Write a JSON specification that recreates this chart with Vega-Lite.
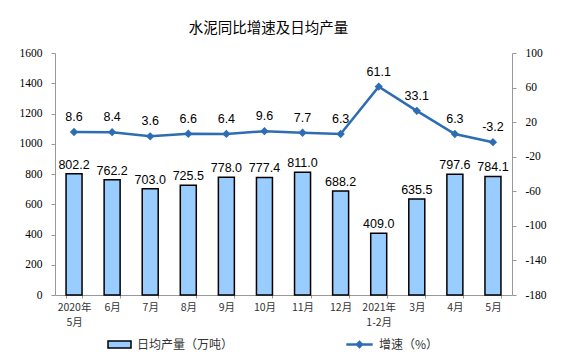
{
  "$schema": "https://vega.github.io/schema/vega-lite/v6.json",
  "width": 457,
  "height": 242,
  "autosize": "none",
  "padding": {"left": 55, "top": 53, "right": 63, "bottom": 61},
  "background": "white",
  "title": {
    "text": "水泥同比增速及日均产量",
    "font": "Noto Sans CJK SC",
    "fontSize": 14.5,
    "fontWeight": "normal",
    "color": "#000",
    "anchor": "middle",
    "offset": 11,
    "dx": -15
  },
  "data": {
    "values": [
      {"m": "2020年\n5月", "prod": 802.2, "g": 8.6},
      {"m": "6月", "prod": 762.2, "g": 8.4},
      {"m": "7月", "prod": 703.0, "g": 3.6},
      {"m": "8月", "prod": 725.5, "g": 6.6},
      {"m": "9月", "prod": 778.0, "g": 6.4},
      {"m": "10月", "prod": 777.4, "g": 9.6},
      {"m": "11月", "prod": 811.0, "g": 7.7},
      {"m": "12月", "prod": 688.2, "g": 6.3},
      {"m": "2021年\n1-2月", "prod": 409.0, "g": 61.1},
      {"m": "3月", "prod": 635.5, "g": 33.1},
      {"m": "4月", "prod": 797.6, "g": 6.3},
      {"m": "5月", "prod": 784.1, "g": -3.2}
    ]
  },
  "encoding": {
    "x": {
      "field": "m",
      "type": "nominal",
      "sort": null,
      "scale": {"paddingInner": 0.58, "paddingOuter": 0.29},
      "axis": {
        "title": null,
        "labelAngle": 0,
        "labelExpr": "split(datum.label, '\\n')",
        "labelFont": "Noto Sans CJK SC",
        "labelFontSize": 10.5,
        "labelColor": "#333",
        "labelPadding": 4,
        "labelLineHeight": 15,
        "domainColor": "#999",
        "tickColor": "#999",
        "tickSize": 3,
        "tickBand": "extent"
      }
    }
  },
  "layer": [
    {
      "encoding": {
        "y": {
          "field": "prod",
          "type": "quantitative",
          "scale": {"domain": [0, 1600], "nice": false},
          "axis": {
            "title": null,
            "values": [0, 200, 400, 600, 800, 1000, 1200, 1400, 1600],
            "format": "d",
            "labelFont": "Liberation Serif",
            "labelFontSize": 11.5,
            "labelColor": "#000",
            "labelPadding": 9,
            "domainColor": "#999",
            "tickColor": "#999",
            "tickSize": 4,
            "grid": false
          }
        }
      },
      "layer": [
        {
          "mark": {"type": "bar", "stroke": "#000", "strokeWidth": 1.5},
          "encoding": {
            "fill": {
              "datum": "日均产量（万吨）",
              "scale": {"range": ["#99CCFF"]},
              "legend": {
                "orient": "none",
                "legendX": 52,
                "legendY": 279,
                "title": null,
                "symbolType": "M-1,-0.3H1V0.3H-1Z",
                "symbolSize": 529,
                "symbolStrokeColor": "#000",
                "symbolStrokeWidth": 1.5,
                "labelOffset": 5,
                "labelFont": "Noto Sans CJK SC",
                "labelFontSize": 12,
                "labelColor": "#333"
              }
            }
          }
        },
        {
          "mark": {"type": "text", "dy": -9, "font": "Liberation Sans", "fontSize": 12.5, "color": "#000"},
          "encoding": {"text": {"field": "prod", "type": "quantitative", "format": ".1f"}}
        }
      ]
    },
    {
      "encoding": {
        "y": {
          "field": "g",
          "type": "quantitative",
          "scale": {"domain": [-180, 100], "nice": false},
          "axis": {
            "title": null,
            "orient": "right",
            "values": [100, 60, 20, -20, -60, -100, -140, -180],
            "format": "d",
            "labelFont": "Liberation Serif",
            "labelFontSize": 11.5,
            "labelColor": "#000",
            "labelPadding": 9,
            "domainColor": "#999",
            "tickColor": "#999",
            "tickSize": 4,
            "grid": false
          }
        }
      },
      "layer": [
        {
          "mark": {
            "type": "line",
            "strokeWidth": 2.5,
            "point": {"shape": "diamond", "size": 30, "filled": true, "color": "#2E6DB4"}
          },
          "encoding": {
            "stroke": {
              "datum": "增速（%）",
              "scale": {"range": ["#2E6DB4"]},
              "legend": {
                "orient": "none",
                "legendX": 292,
                "legendY": 279,
                "title": null,
                "symbolType": "M-1.2,0H1.2M-0.22,0L0,-0.22L0.22,0L0,0.22Z",
                "symbolSize": 484,
                "symbolFillColor": "#2E6DB4",
                "symbolStrokeWidth": 2.5,
                "labelOffset": 7,
                "labelFont": "Noto Sans CJK SC",
                "labelFontSize": 12,
                "labelColor": "#333"
              }
            }
          }
        },
        {
          "mark": {"type": "text", "dy": -15, "font": "Liberation Sans", "fontSize": 12.5, "color": "#000"},
          "encoding": {"text": {"field": "g", "type": "quantitative", "format": ".1f"}}
        }
      ]
    }
  ],
  "resolve": {"scale": {"y": "independent", "fill": "independent", "stroke": "independent"}},
  "config": {
    "view": {"stroke": null},
    "locale": {
      "number": {"decimal": ".", "thousands": ",", "grouping": [3], "currency": ["$", ""], "minus": "-"}
    }
  }
}
